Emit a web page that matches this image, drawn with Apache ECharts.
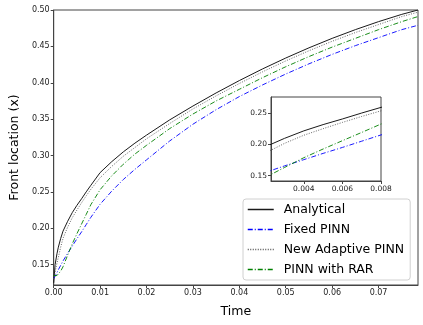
<!DOCTYPE html>
<html>
<head>
<meta charset="utf-8">
<script src="https://cdn.jsdelivr.net/npm/echarts@6/dist/echarts.min.js"></script>
<style>
  html, body { margin: 0; padding: 0; background: #fff; }
  #chart { width: 423px; height: 325px; }
</style>
</head>
<body>
<div id="chart"></div>
<script>
// time points (x axis) and front location of each method
var time = [0, 0.0003, 0.0007, 0.001, 0.0015, 0.002, 0.003, 0.004, 0.005, 0.006, 0.007, 0.008,
            0.01, 0.0125, 0.015, 0.0175, 0.02, 0.025, 0.03, 0.035, 0.04, 0.045, 0.05, 0.055,
            0.06, 0.065, 0.07, 0.075, 0.0785];
var analytical = [0.125, 0.150, 0.165, 0.174, 0.186, 0.196, 0.2095, 0.2215, 0.2315, 0.2405, 0.250, 0.259,
                  0.2765, 0.2915, 0.305, 0.317, 0.328, 0.349, 0.368, 0.386, 0.403, 0.419, 0.434, 0.448,
                  0.461, 0.473, 0.484, 0.494, 0.500];
var fixedPinn = [0.131, 0.134, 0.139, 0.143, 0.149, 0.155, 0.1655, 0.1755, 0.1855, 0.195, 0.205, 0.215,
                 0.233, 0.251, 0.267, 0.281, 0.294, 0.320, 0.343, 0.363, 0.381, 0.397, 0.412, 0.426,
                 0.439, 0.451, 0.462, 0.473, 0.479];
var adaptivePinn = [0.130, 0.140, 0.152, 0.160, 0.174, 0.186, 0.2015, 0.2145, 0.225, 0.235, 0.2445, 0.2535,
                    0.2695, 0.285, 0.299, 0.311, 0.323, 0.344, 0.364, 0.382, 0.399, 0.415, 0.430, 0.444,
                    0.457, 0.469, 0.480, 0.491, 0.497];
var rarPinn = [0.135, 0.134, 0.135, 0.136, 0.141, 0.147, 0.163, 0.1786, 0.1925, 0.2058, 0.219, 0.2324,
               0.253, 0.272, 0.288, 0.302, 0.314, 0.337, 0.357, 0.375, 0.391, 0.407, 0.422, 0.436,
               0.449, 0.461, 0.473, 0.484, 0.491];

var xTicks = [0, 0.01, 0.02, 0.03, 0.04, 0.05, 0.06, 0.07];
var yTicks = [0.15, 0.20, 0.25, 0.30, 0.35, 0.40, 0.45, 0.50];
var insetXTicks = [0.004, 0.006, 0.008];
var insetYTicks = [0.15, 0.20, 0.25];

function pairs(ys) {
    return time.map(function (t, i) { return [t, ys[i]]; });
}

var FONT = 'DejaVu Sans';
var AXIS_COLOR = '#444';

var lines = [
    {name: 'Analytical', data: analytical, color: '#1a1a1a', type: 'solid', width: 1},
    {name: 'Fixed PINN', data: fixedPinn, color: '#0000ff', type: [5, 2, 1, 2], width: 0.9},
    {name: 'New Adaptive PINN', data: adaptivePinn, color: '#555555', type: [1, 1.5], width: 0.9},
    {name: 'PINN with RAR', data: rarPinn, color: '#008000', type: [5, 2, 1, 2], width: 0.9}
];

function axisCommon(ticks, digits, fontSize) {
    return {
        axisLine: {show: true, onZero: false, lineStyle: {color: AXIS_COLOR, width: 1}},
        axisTick: {show: true, inside: false, length: 3, customValues: ticks,
                   lineStyle: {color: AXIS_COLOR}},
        axisLabel: {customValues: ticks, color: '#222', fontFamily: FONT, fontSize: fontSize, margin: 4,
                    formatter: function (v) { return Number(v).toFixed(digits); }},
        splitLine: {show: false}
    };
}

var mainX = Object.assign({
    type: 'value', gridIndex: 0, min: 0, max: 0.0785,
    name: 'Time', nameLocation: 'middle', nameGap: 20,
    nameTextStyle: {fontFamily: FONT, fontSize: 12.5, color: '#000'}
}, axisCommon(xTicks, 2, 8));
var mainY = Object.assign({
    type: 'value', gridIndex: 0, min: 0.122, max: 0.50,
    name: 'Front location (x)', nameLocation: 'middle', nameGap: 30,
    nameTextStyle: {fontFamily: FONT, fontSize: 12.5, color: '#000'}
}, axisCommon(yTicks, 2, 8));
var insetX = Object.assign({type: 'value', gridIndex: 1, min: 0.0023, max: 0.008},
    axisCommon(insetXTicks, 3, 7.5));
var insetY = Object.assign({type: 'value', gridIndex: 1, min: 0.1414, max: 0.2756},
    axisCommon(insetYTicks, 2, 7.5));

// main plot series first, then the inset copies
var series = [];
[0, 1].forEach(function (g) {
    lines.forEach(function (l) {
        series.push({
            name: l.name, type: 'line', xAxisIndex: g, yAxisIndex: g,
            data: pairs(l.data), showSymbol: false, symbol: 'none',
            smooth: false, clip: true, animation: false, color: l.color,
            lineStyle: {color: l.color, type: l.type, width: l.width},
            itemStyle: {color: l.color}, z: 3
        });
    });
});

var myChart = echarts.init(document.getElementById('chart'), null, {renderer: 'canvas'});
var option = {
    backgroundColor: '#fff',
    animation: false,
    grid: [
        {left: 50, top: 10, width: 368, height: 275, show: true, borderColor: AXIS_COLOR, borderWidth: 1},
        {left: 271, top: 97, width: 110, height: 84, show: true, borderColor: AXIS_COLOR, borderWidth: 1,
         backgroundColor: '#fff'}
    ],
    xAxis: [mainX, insetX],
    yAxis: [mainY, insetY],
    legend: {
        data: lines.map(function (l) { return l.name; }),
        orient: 'vertical', left: 243, top: 199,
        itemWidth: 26, itemHeight: 12, itemGap: 7,
        padding: [4, 6, 4, 4],
        backgroundColor: 'rgba(255,255,255,0.85)',
        borderColor: '#d0d0d0', borderWidth: 1, borderRadius: 3,
        itemStyle: {color: 'rgba(0,0,0,0)', borderColor: 'rgba(0,0,0,0)', borderWidth: 0},
        lineStyle: {color: 'inherit', type: 'inherit', width: 1.5, opacity: 'inherit'},
        textStyle: {fontFamily: FONT, fontSize: 12.5, color: '#000', padding: [0, 0, 0, 5]}
    },
    series: series
};
myChart.setOption(option);
</script>
</body>
</html>
